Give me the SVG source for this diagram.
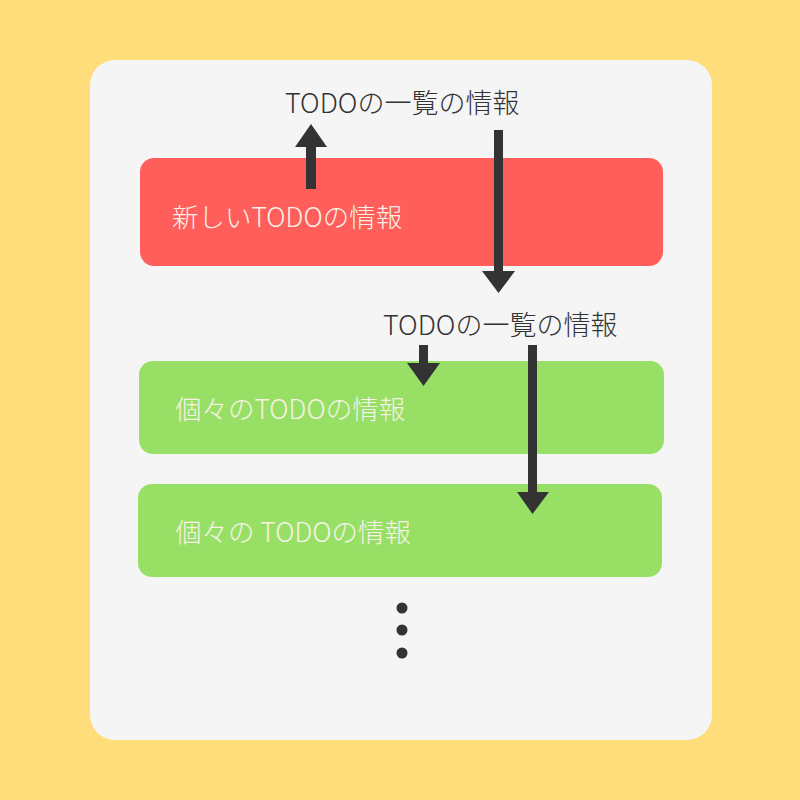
<svg xmlns="http://www.w3.org/2000/svg" width="800" height="800" viewBox="0 0 800 800">
<defs>
<style>
.lbl{font-family:"Noto Sans CJK JP","Noto Sans",sans-serif;font-size:27px;fill:#333;font-weight:300}
.in{font-family:"Noto Sans CJK JP","Noto Sans",sans-serif;font-size:26.5px;fill:#F7F1E6;font-weight:300}
.arr{fill:#333}
.dot{fill:#333}
</style>
</defs>
<rect x="0" y="0" width="800" height="800" fill="#FFDD7B"/>
<rect x="90" y="60" width="622" height="680" rx="25" fill="#F5F5F5"/>
<g id="new-todo">
<rect x="140" y="158" width="523" height="108" rx="14" fill="#FF5E5B"/>
<text class="in" x="172" y="227">新しいTODOの情報</text>
</g>
<g id="todo-list-1">
<text class="lbl" x="285" y="113">TODOの一覧の情報</text>
</g>
<g id="todo-list-2">
<text class="lbl" x="383" y="335">TODOの一覧の情報</text>
</g>
<g id="item-1">
<rect x="139" y="361" width="525" height="93" rx="14" fill="#98E065"/>
<text class="in" x="175" y="419">個々のTODOの情報</text>
</g>
<g id="item-2">
<rect x="138" y="484" width="524" height="93" rx="14" fill="#98E065"/>
<text class="in" x="175" y="542">個々の TODOの情報</text>
</g>
<g id="more">
<circle class="dot" cx="402" cy="608" r="5.5"/>
<circle class="dot" cx="402" cy="630" r="5.5"/>
<circle class="dot" cx="402" cy="653" r="5.5"/>
</g>
<g id="connectors">
<polygon class="arr" points="306,189 316,189 316,147 327,147 311,124 295,147 306,147"/>
<polygon class="arr" points="494,130 503,130 503,271 515,271 498.5,293 482,271 494,271"/>
<polygon class="arr" points="419,345 428,345 428,363 440,363 423.5,386 407,363 419,363"/>
<polygon class="arr" points="528,345 537,345 537,492 549,492 532.5,514 517,492 528,492"/>
</g>
</svg>
